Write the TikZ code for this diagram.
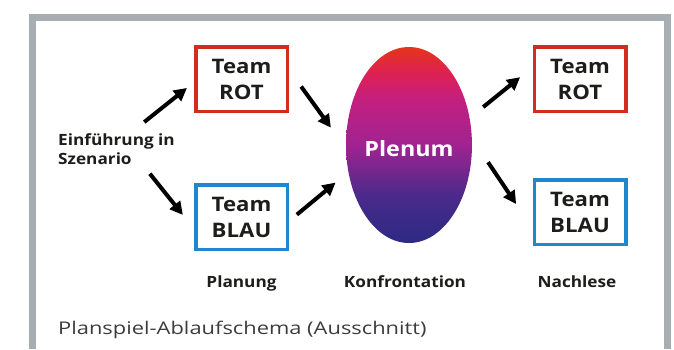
\documentclass[tikz,border=0pt]{standalone}
\usepackage{fontspec}
\setmainfont{Open Sans}
\newfontfamily\widefont{Open Sans}[FakeStretch=1.11]
\newfontfamily\captionfont{Open Sans}[FakeStretch=1.25]
\usetikzlibrary{arrows.meta, shapes.geometric}
\definecolor{framegray}{HTML}{A7AEB1}
\definecolor{teamred}{HTML}{D52B1E}
\definecolor{teamblue}{HTML}{1E87CD}
\definecolor{plenumtop}{HTML}{E4351C}
\definecolor{plenumred}{HTML}{DC2055}
\definecolor{plenumpink}{HTML}{C51F7E}
\definecolor{plenummid}{HTML}{A02391}
\definecolor{plenumviolet}{HTML}{4A2A8A}
\definecolor{plenumbottom}{HTML}{2C2A84}
\definecolor{ink}{HTML}{1D1D1B}
\definecolor{captiongray}{HTML}{3C3C3B}
\pgfdeclareverticalshading{plenumshade}{100bp}{color(0bp)=(plenumbottom); color(25bp)=(plenumbottom); color(37bp)=(plenumviolet); color(50bp)=(plenummid); color(62bp)=(plenumpink); color(68bp)=(plenumred); color(75bp)=(plenumtop); color(100bp)=(plenumtop)}

\begin{document}
\begin{tikzpicture}[
		x=1pt,
		y=-1pt,
		team/.style={draw, line width=3.5pt, minimum width=91.5pt, minimum height=64.5pt, align=center, inner sep=0pt, font=\widefont\fontsize{20}{26}\selectfont\bfseries, text=ink},
		flow/.style={-{Triangle[length=13pt,width=13pt]}, line width=4pt},
		phase/.style={font=\widefont\fontsize{15.5}{19}\selectfont\bfseries, text=ink, anchor=base, inner sep=0pt}
		]
		\useasboundingbox (0,0) rectangle (674,349);
		
		% Frame
		\draw[framegray, line width=7pt] (32.5,349) -- (32.5,17.5) -- (667.5,17.5) -- (667.5,349);
		
		% Start
		\node[font=\widefont\fontsize{15.5}{19}\selectfont\bfseries, text=ink, align=left, inner sep=0pt, anchor=west] (intro) at (58,149) {Einführung in\\Szenario};
		
		% Teams
		\node[team, draw=teamred] (rotA) at (241.5,79) {Team\\ROT};
		\node[team, draw=teamblue] (blauA) at (241.5,217) {Team\\BLAU};
		\node[team, draw=teamred] (rotB) at (580,79) {Team\\ROT};
		\node[team, draw=teamblue] (blauB) at (580,212) {Team\\BLAU};
		
		% Plenum
		\node[ellipse, minimum width=114pt, minimum height=196pt, inner sep=0pt, shading=plenumshade, text=white, text height=22pt, text depth=0pt, font=\widefont\fontsize{21}{25}\selectfont\bfseries] (plenum) at (409,145) {Plenum};
		
		% Arrows
		\draw[flow, shorten <=18pt, shorten >=9pt] (intro.49) -- (rotA.184);
		\draw[flow, shorten <=11.5pt, shorten >=17.8pt] (intro.329) -- (blauA.194);
		\draw[flow, shorten <=20.7pt, shorten >=25.5pt] (rotA.11) -- (plenum.183);
		\draw[flow, shorten <=10.2pt, shorten >=16.5pt] (blauA.355) -- (plenum.204);
		\draw[flow, shorten <=17.3pt, shorten >=15.9pt] (plenum.24) -- (rotB.166);
		\draw[flow, shorten <=28.7pt, shorten >=29.3pt] (plenum.6) -- (blauB.199);
		
		% Phases
		\node[phase] (planung) at (241.5,287) {Planung};
		\node[phase] (konfrontation) at (405,287) {Konfrontation};
		\node[phase] (nachlese) at (577,287) {Nachlese};
		
		% Caption
		\node[font=\captionfont\fontsize{17.5}{21}\selectfont, text=captiongray, anchor=base west, inner sep=0pt] (caption) at (58,334.5) {Planspiel-Ablaufschema (Ausschnitt)};
	\end{tikzpicture}
\end{document}
